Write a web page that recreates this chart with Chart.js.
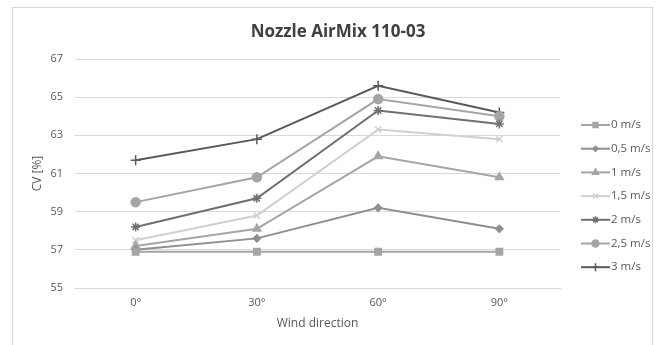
<!DOCTYPE html>
<html>
<head>
<meta charset="utf-8">
<script src="https://cdn.jsdelivr.net/npm/chart.js@4/dist/chart.umd.min.js"></script>
<style>
    html, body { margin: 0; padding: 0; background: #fff; }
    #wrap { width: 665px; height: 345px; position: relative; }
</style>
</head>
<body>
<div id="wrap"><canvas id="cvChart" width="665" height="345"></canvas></div>
<script>
// wind direction categories
const directions = ['0°', '30°', '60°', '90°'];
// CV [%] per wind speed
const speeds = ['0 m/s', '0,5 m/s', '1 m/s', '1,5 m/s', '2 m/s', '2,5 m/s', '3 m/s'];
const cv0 = [56.9, 56.9, 56.9, 56.9];
const cv05 = [57.0, 57.6, 59.2, 58.1];
const cv1 = [57.2, 58.1, 61.9, 60.8];
const cv15 = [57.5, 58.8, 63.3, 62.8];
const cv2 = [58.2, 59.7, 64.3, 63.6];
const cv25 = [59.5, 60.8, 64.9, 64.0];
const cv3 = [61.7, 62.8, 65.6, 64.2];
const chartTitle = 'Nozzle AirMix 110-03';

const seriesValues = [cv0, cv05, cv1, cv15, cv2, cv25, cv3];
const lineColors = ['#a5a5a5', '#8f8f8f', '#a5a5a5', '#d0d0d0', '#6f6f6f', '#a5a5a5', '#595959'];
const markers = ['rect', 'rectRot', 'triangle', 'crossRot', 'star', 'circle', 'cross'];
const markerSizes = [4.5, 3.5, 4.5, 4.5, 4.5, 4.5, 5];

const datasets = seriesValues.map((vals, i) => ({
    label: speeds[i],
    data: vals,
    borderColor: lineColors[i],
    backgroundColor: lineColors[i],
    borderWidth: 2,
    pointStyle: markers[i],
    pointRadius: markerSizes[i],
    pointBorderWidth: 1.5,
    pointBorderColor: lineColors[i],
    pointBackgroundColor: lineColors[i],
    tension: 0
}));

// frame, title and an excel-like legend (line + marker)
const frameAndLegend = {
    id: 'frameAndLegend',
    beforeDraw(chart) {
        const ctx = chart.ctx;
        ctx.save();
        ctx.strokeStyle = '#d9d9d9';
        ctx.lineWidth = 1;
        ctx.strokeRect(12.5, 7.5, 640, 400);
        ctx.restore();
    },
    afterDraw(chart) {
        const ctx = chart.ctx;
        ctx.save();
        ctx.fillStyle = '#404040';
        ctx.font = 'bold 17px "Open Sans"';
        ctx.textAlign = 'center';
        ctx.textBaseline = 'alphabetic';
        ctx.fillText(chartTitle, 338, 37);

        const x0 = 581, x1 = 610;
        let y = 125;
        chart.data.datasets.forEach((ds) => {
            ctx.strokeStyle = ds.borderColor;
            ctx.lineWidth = 2;
            ctx.beginPath();
            ctx.moveTo(x0, y);
            ctx.lineTo(x1, y);
            ctx.stroke();
            ctx.fillStyle = ds.pointBackgroundColor;
            ctx.strokeStyle = ds.pointBorderColor;
            ctx.lineWidth = 1.5;
            Chart.helpers.drawPoint(ctx, {
                pointStyle: ds.pointStyle,
                radius: ds.pointRadius - 1,
                rotation: 0,
                borderWidth: 1.5
            }, (x0 + x1) / 2, y);
            ctx.fillStyle = '#595959';
            ctx.font = '11.5px "Open Sans"';
            ctx.textBaseline = 'middle';
            ctx.textAlign = 'left';
            ctx.fillText(ds.label, x1 + 1, y);
            y += 23.7;
        });
        ctx.restore();
    }
};

new Chart(document.getElementById('cvChart'), {
    type: 'line',
    data: { labels: directions, datasets: datasets },
    plugins: [frameAndLegend],
    options: {
        responsive: false,
        animation: false,
        layout: { padding: { left: 12, right: 105, top: 59, bottom: 14 } },
        plugins: {
            legend: { display: false },
            tooltip: { enabled: false },
            title: { display: false }
        },
        scales: {
            x: {
                offset: true,
                grid: { display: false, drawTicks: false },
                border: { display: true, color: '#d9d9d9', width: 1 },
                ticks: { color: '#595959', font: { family: '"Open Sans"', size: 11 }, padding: 8 },
                title: {
                    display: true,
                    text: 'Wind direction',
                    color: '#595959',
                    font: { family: '"Open Sans"', size: 12 },
                    padding: { top: 4, bottom: 0 }
                },
                afterFit(scale) { scale.height = 43; }
            },
            y: {
                min: 55,
                max: 67,
                ticks: { stepSize: 2, color: '#595959', font: { family: '"Open Sans"', size: 11 }, padding: 12 },
                grid: { color: '#d9d9d9', drawTicks: false },
                border: { display: false },
                title: {
                    display: true,
                    text: 'CV [%]',
                    color: '#595959',
                    font: { family: '"Open Sans"', size: 12 },
                    padding: { top: 18, bottom: 0 }
                },
                afterFit(scale) { scale.width = 63; }
            }
        }
    }
});
</script>
</body>
</html>
